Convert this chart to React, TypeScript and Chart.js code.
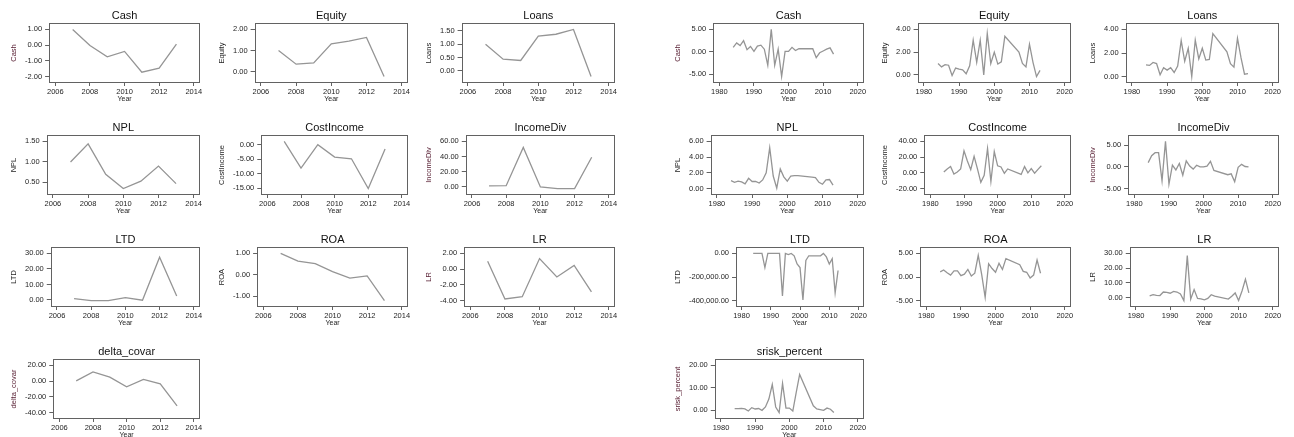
import React, { useEffect, useRef } from "react";
import { Chart, registerables } from "chart.js";

Chart.register(...registerables);

// ---------- data ----------
const leftYears = [2007, 2008, 2009, 2010, 2011, 2012, 2013];
const rightYears = [
  1984, 1985, 1986, 1987, 1988, 1989, 1990, 1991, 1992, 1993,
  1994, 1995, 1996, 1997, 1998, 1999, 2000, 2001, 2002, 2003,
  2007, 2008, 2009, 2010, 2011, 2012, 2013,
];
const leftXTicks = [2006, 2008, 2010, 2012, 2014];
const rightXTicks = [1980, 1990, 2000, 2010, 2020];

// left group (2007-2013)
const cashL = [1.0, -0.02, -0.74, -0.4, -1.72, -1.46, 0.06];
const equityL = [1.0, 0.35, 0.41, 1.32, 1.44, 1.62, -0.24];
const loansL = [1.0, 0.44, 0.39, 1.3, 1.37, 1.55, -0.21];
const nplL = [1.0, 1.44, 0.7, 0.35, 0.53, 0.9, 0.47];
const costIncomeL = [1.2, -8.0, 0.1, -4.2, -4.8, -15.1, -1.4];
const incomeDivL = [1.0, 1.2, 52.0, -0.5, -2.7, -2.7, 39.0];
const ltdL = [0.8, -0.4, -0.4, 1.5, -0.2, 27.6, 2.5];
const roaL = [1.0, 0.64, 0.52, 0.15, -0.15, -0.05, -1.2];
const lrL = [1.0, -3.8, -3.5, 1.35, -1.0, 0.48, -2.9];
const deltaCovarL = [0.3, 11.8, 5.1, -7.2, 2.1, -3.4, -31.6];

// right group (1984-2003, 2007-2013)
const cashR = [1.0, 2.0, 1.4, 2.5, 0.5, 1.2, 0.1, 1.3, 1.5, 0.6, -3.0, 5.0, -3.0, 0.6, -5.5, 0.1, 0.1, 1.0, 0.3, 0.7, 0.7, -1.3, -0.2, 0.2, 0.6, 0.9, -0.5];
const equityR = [1.0, 0.7, 0.9, 0.85, -0.05, 0.6, 0.5, 0.45, 0.1, 0.8, 3.05, 1.1, 3.05, 0.0, 3.65, 1.0, 2.0, 0.95, 1.15, 3.4, 2.0, 1.0, 0.7, 2.7, 1.1, -0.15, 0.4];
const loansR = [1.0, 0.95, 1.2, 1.1, 0.15, 0.75, 0.55, 0.75, 0.35, 0.9, 3.05, 1.3, 2.4, 0.0, 3.1, 1.5, 2.4, 1.4, 1.45, 3.65, 2.1, 1.1, 0.8, 3.25, 1.6, 0.2, 0.25];
const nplR = [1.0, 0.8, 0.95, 0.85, 0.6, 1.3, 0.9, 0.9, 0.7, 1.1, 2.0, 5.2, 1.6, 0.05, 2.5, 1.5, 0.95, 1.6, 1.65, 1.65, 1.45, 1.4, 0.8, 0.55, 1.1, 1.15, 0.45];
const costIncomeR = [1.0, 5.0, 8.0, -1.5, 1.0, 5.0, 28.0, 15.0, 4.0, 21.0, 5.0, -12.0, -3.0, 31.0, -11.0, 27.0, 9.0, 7.5, -0.5, 5.0, -2.0, 8.0, 0.0, 5.5, -0.5, 4.5, 9.0];
const incomeDivR = [1.0, 2.6, 3.3, 3.3, -3.2, 5.9, -4.0, 0.4, -0.7, 0.8, -1.9, 1.4, 0.2, -0.5, 0.4, 0.0, 0.0, 0.2, 1.3, -0.8, -1.8, -1.6, -3.4, -0.1, 0.6, 0.1, 0.0];
const ltdR = [0, 0, 0, 0, -120000, 0, 0, 0, 0, 0, -360000, 0, -10000, 0, -20000, -90000, -120000, -395000, -60000, -20000, -20000, 0, -30000, -90000, -45000, -335000, -145000];
const roaR = [1.1, 1.5, 0.9, 0.4, 1.3, 1.3, 0.3, 0.6, 1.6, 0.2, 0.8, 4.6, 0.5, -4.3, 2.8, 1.8, 1.0, 2.9, 1.6, 3.9, 2.6, 1.2, 1.0, -0.2, 0.4, 3.6, 0.8];
const lrR = [1.2, 2.0, 1.5, 1.4, 3.8, 3.5, 3.0, 4.2, 3.8, 2.5, -2.0, 28.5, -1.0, 5.5, -0.5, -0.8, -1.5, -0.5, 2.0, 1.0, -1.0, 1.0, 3.2, -2.0, 4.5, 12.5, 3.2];
const sriskR = [0.8, 0.8, 0.9, 0.6, -0.3, 1.2, 0.6, 0.8, 0.0, 1.5, 5.0, 11.5, 1.5, -1.0, 12.0, 1.0, 1.0, -0.3, 8.0, 16.0, 2.0, 0.6, 0.3, 0.0, 1.0, 0.5, -1.0];

// y tick labels
const cashLTicks = [-2, -1, 0, 1];
const equityLTicks = [0, 1, 2];
const loansLTicks = [0, 0.5, 1, 1.5];
const nplLTicks = [0.5, 1, 1.5];
const costIncomeLTicks = [-15, -10, -5, 0];
const incomeDivLTicks = [0, 20, 40, 60];
const ltdLTicks = [0, 10, 20, 30];
const roaLTicks = [-1, 0, 1];
const lrLTicks = [-4, -2, 0, 2];
const deltaCovarLTicks = [-40, -20, 0, 20];

const cashRTicks = [-5, 0, 5];
const equityRTicks = [0, 2, 4];
const loansRTicks = [0, 2, 4];
const nplRTicks = [0, 2, 4, 6];
const costIncomeRTicks = [-20, 0, 20, 40];
const incomeDivRTicks = [-5, 0, 5];
const ltdRTicks = [-400000, -200000, 0];
const roaRTicks = [-5, 0, 5];
const lrRTicks = [0, 10, 20, 30];
const sriskRTicks = [0, 10, 20];

// ---------- panel definitions ----------
type Panel = {
  title: string;
  years: number[];
  values: number[];
  yTicks: number[];
  xTicks: number[];
  group: number;
  col: number;
  row: number;
  warm: boolean;
};

const panels: Panel[] = [
  { title: "Cash", years: leftYears, values: cashL, yTicks: cashLTicks, xTicks: leftXTicks, group: 0, col: 0, row: 0, warm: true },
  { title: "Equity", years: leftYears, values: equityL, yTicks: equityLTicks, xTicks: leftXTicks, group: 0, col: 1, row: 0, warm: false },
  { title: "Loans", years: leftYears, values: loansL, yTicks: loansLTicks, xTicks: leftXTicks, group: 0, col: 2, row: 0, warm: false },
  { title: "NPL", years: leftYears, values: nplL, yTicks: nplLTicks, xTicks: leftXTicks, group: 0, col: 0, row: 1, warm: false },
  { title: "CostIncome", years: leftYears, values: costIncomeL, yTicks: costIncomeLTicks, xTicks: leftXTicks, group: 0, col: 1, row: 1, warm: false },
  { title: "IncomeDiv", years: leftYears, values: incomeDivL, yTicks: incomeDivLTicks, xTicks: leftXTicks, group: 0, col: 2, row: 1, warm: true },
  { title: "LTD", years: leftYears, values: ltdL, yTicks: ltdLTicks, xTicks: leftXTicks, group: 0, col: 0, row: 2, warm: false },
  { title: "ROA", years: leftYears, values: roaL, yTicks: roaLTicks, xTicks: leftXTicks, group: 0, col: 1, row: 2, warm: false },
  { title: "LR", years: leftYears, values: lrL, yTicks: lrLTicks, xTicks: leftXTicks, group: 0, col: 2, row: 2, warm: true },
  { title: "delta_covar", years: leftYears, values: deltaCovarL, yTicks: deltaCovarLTicks, xTicks: leftXTicks, group: 0, col: 0, row: 3, warm: true },

  { title: "Cash", years: rightYears, values: cashR, yTicks: cashRTicks, xTicks: rightXTicks, group: 1, col: 0, row: 0, warm: true },
  { title: "Equity", years: rightYears, values: equityR, yTicks: equityRTicks, xTicks: rightXTicks, group: 1, col: 1, row: 0, warm: false },
  { title: "Loans", years: rightYears, values: loansR, yTicks: loansRTicks, xTicks: rightXTicks, group: 1, col: 2, row: 0, warm: false },
  { title: "NPL", years: rightYears, values: nplR, yTicks: nplRTicks, xTicks: rightXTicks, group: 1, col: 0, row: 1, warm: false },
  { title: "CostIncome", years: rightYears, values: costIncomeR, yTicks: costIncomeRTicks, xTicks: rightXTicks, group: 1, col: 1, row: 1, warm: false },
  { title: "IncomeDiv", years: rightYears, values: incomeDivR, yTicks: incomeDivRTicks, xTicks: rightXTicks, group: 1, col: 2, row: 1, warm: true },
  { title: "LTD", years: rightYears, values: ltdR, yTicks: ltdRTicks, xTicks: rightXTicks, group: 1, col: 0, row: 2, warm: false },
  { title: "ROA", years: rightYears, values: roaR, yTicks: roaRTicks, xTicks: rightXTicks, group: 1, col: 1, row: 2, warm: false },
  { title: "LR", years: rightYears, values: lrR, yTicks: lrRTicks, xTicks: rightXTicks, group: 1, col: 2, row: 2, warm: false },
  { title: "srisk_percent", years: rightYears, values: sriskR, yTicks: sriskRTicks, xTicks: rightXTicks, group: 1, col: 0, row: 3, warm: true },
];

// ---------- layout / style ----------
const FONT = "'Liberation Sans', Arial, Helvetica, sans-serif";
const GROUP_LEFT = [0, 663.5];
const COL_PITCH = 207.5;
const ROW_PITCH = 112;
const CANVAS_W = 205;
const CANVAS_H = 105;
const FRAME = "#626262";
const LINE = "#959595";
const TEXT = "#1e1e1e";
const WARM = "#5a2236";

const fmt = (v: number) =>
  v.toLocaleString("en-US", { minimumFractionDigits: 2, maximumFractionDigits: 2 });

function PanelChart({ p }: { p: Panel }) {
  const ref = useRef<HTMLCanvasElement>(null);
  const left = Math.round(GROUP_LEFT[p.group] + p.col * COL_PITCH);
  const top = p.row * ROW_PITCH;

  useEffect(() => {
    if (!ref.current) return;
    const lo = Math.min(...p.values, ...p.yTicks);
    const hi = Math.max(...p.values, ...p.yTicks);
    const pad = (hi - lo) * 0.115;
    const xlo = Math.min(...p.xTicks, ...p.years);
    const xhi = Math.max(...p.xTicks, ...p.years);
    const xpad = (xhi - xlo) * 0.038;

    const framePlugin = {
      id: "frameTitle",
      afterDraw(chart: any) {
        const { ctx, chartArea: a } = chart;
        ctx.save();
        ctx.strokeStyle = FRAME;
        ctx.lineWidth = 1;
        const x0 = Math.round(a.left) - 0.5;
        const y0 = Math.round(a.top) - 0.5;
        const x1 = Math.round(a.right) + 0.5;
        const y1 = Math.round(a.bottom) + 0.5;
        ctx.strokeRect(x0, y0, x1 - x0, y1 - y0);
        ctx.fillStyle = "#111";
        ctx.font = `11px ${FONT}`;
        ctx.textAlign = "center";
        ctx.textBaseline = "middle";
        ctx.fillText(p.title, (a.left + a.right) / 2, a.top - 8);
        ctx.restore();
      },
    };

    const chart = new Chart(ref.current, {
      type: "line",
      data: {
        datasets: [
          {
            data: p.years.map((x, i) => ({ x, y: p.values[i] })),
            borderColor: LINE,
            borderWidth: 1.3,
            pointRadius: 0,
            tension: 0,
            fill: false,
          },
        ],
      },
      options: {
        animation: false,
        responsive: false,
        maintainAspectRatio: false,
        layout: { padding: { left: 8, right: 6, top: 24, bottom: 0 } },
        plugins: {
          legend: { display: false },
          tooltip: { enabled: false },
          title: { display: false },
        },
        scales: {
          x: {
            type: "linear",
            min: xlo - xpad,
            max: xhi + xpad,
            afterBuildTicks: (s: any) => {
              s.ticks = p.xTicks.map((v) => ({ value: v }));
            },
            afterFit: (s: any) => {
              s.height = 23;
            },
            border: { display: false },
            grid: { drawOnChartArea: false, drawTicks: true, tickLength: 4, color: FRAME, lineWidth: 1 },
            ticks: {
              autoSkip: false,
              maxRotation: 0,
              minRotation: 0,
              padding: 1,
              color: TEXT,
              font: { family: FONT, size: 7.5 },
              callback: (v: any) => String(v),
            },
            title: {
              display: true,
              text: "Year",
              color: TEXT,
              font: { family: FONT, size: 7 },
              padding: { top: 0, bottom: 1.5 },
            },
          },
          y: {
            type: "linear",
            min: lo - pad,
            max: hi + pad,
            afterBuildTicks: (s: any) => {
              s.ticks = p.yTicks.map((v) => ({ value: v }));
            },
            border: { display: false },
            grid: { drawOnChartArea: false, drawTicks: true, tickLength: 5, color: FRAME, lineWidth: 1 },
            ticks: {
              autoSkip: false,
              padding: 3,
              color: TEXT,
              font: { family: FONT, size: 7.5 },
              callback: (v: any) => fmt(Number(v)),
            },
            title: {
              display: true,
              text: p.title,
              color: p.warm ? WARM : TEXT,
              font: { family: FONT, size: 7.5 },
              padding: { top: 1, bottom: 4 },
            },
          },
        },
      },
      plugins: [framePlugin],
    } as any);
    return () => chart.destroy();
  }, []);

  return (
    <canvas
      ref={ref}
      width={CANVAS_W}
      height={CANVAS_H}
      style={{ position: "absolute", left, top, width: CANVAS_W, height: CANVAS_H }}
    />
  );
}

export default function App() {
  return (
    <div
      style={{
        position: "absolute",
        left: 0,
        top: 0,
        width: 1294,
        height: 437,
        overflow: "hidden",
        background: "#ffffff",
      }}
    >
      {panels.map((p, i) => (
        <PanelChart key={i} p={p} />
      ))}
    </div>
  );
}
